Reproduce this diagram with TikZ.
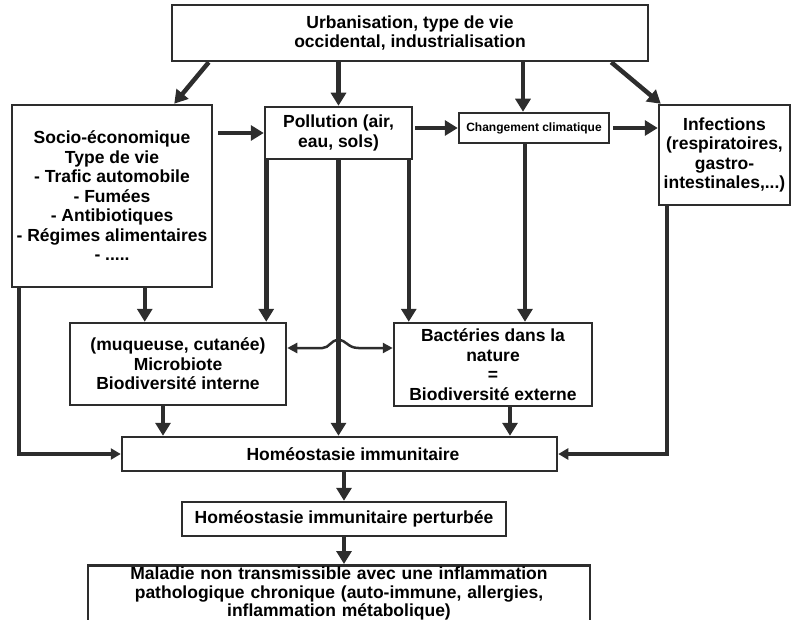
\documentclass[tikz,border=0pt]{standalone}
\usepackage{fontspec}
\setmainfont{Liberation Sans}
\usepackage{tikz}
\usetikzlibrary{arrows.meta}
\usetikzlibrary{calc}

\definecolor{inkgray}{RGB}{45,45,45}

\begin{document}
\begin{tikzpicture}[x=1pt, y=-1pt,
    flowbox/.style = {draw=inkgray, line width=2.5pt, rectangle, align=center, inner sep=0pt,
                      font=\bfseries\fontsize{17.5}{19.5}\selectfont},
    bigarrow/.style = {draw=inkgray, line width=4.5pt, -{Triangle[length=13pt,width=15pt]}},
    thinarrow/.style = {draw=inkgray, line width=3.5pt, -{Triangle[length=10pt,width=11pt]}},
    twoway/.style = {draw=inkgray, line width=2.5pt,
                     {Triangle[length=10pt,width=10pt]}-{Triangle[length=10pt,width=10pt]}}]
      \useasboundingbox (0,0) rectangle (792,620);
      \clip (0,0) rectangle (792,620);
      % Boxes
      \node[flowbox, minimum width=476pt, minimum height=56pt] (urban) at (410,33)
        {Urbanisation, type de vie\\occidental, industrialisation};
      \node[flowbox, minimum width=200pt, minimum height=182pt] (socio) at (112,196)
        {Socio-économique\\Type de vie\\- Trafic automobile\\- Fumées\\- Antibiotiques\\- Régimes alimentaires\\- .....};
      \node[flowbox, minimum width=147pt, minimum height=52pt] (pollution) at (338.5,133)
        {Pollution (air,\\eau, sols)};
      \node[flowbox, minimum width=150pt, minimum height=30pt,
            font=\bfseries\fontsize{12}{14}\selectfont] (climat) at (534,128) {Changement climatique};
      \node[flowbox, minimum width=131pt, minimum height=100pt] (infect) at (724.5,155)
        {Infections\\(respiratoires,\\gastro-\\intestinales,...)};
      \node[flowbox, minimum width=216pt, minimum height=82pt] (microbiote) at (178,364)
        {(muqueuse, cutanée)\\Microbiote\\Biodiversité interne};
      \node[flowbox, minimum width=198pt, minimum height=83pt] (bacteries) at (493,364.5)
        {Bactéries dans la\\nature\\=\\Biodiversité externe};
      \node[flowbox, minimum width=435pt, minimum height=34pt] (homeo) at (339.5,454)
        {\hspace*{27pt}Homéostasie immunitaire};
      \node[flowbox, text width=494pt, inner xsep=4pt, inner ysep=2pt, anchor=north,
            font=\bfseries\fontsize{17.5}{18.5}\selectfont] (maladie) at (339,564)
        {Maladie non transmissible avec une inflammation\\pathologique chronique (auto-immune, allergies,\\inflammation métabolique)\rule[-12pt]{0pt}{12pt}};
      \node[flowbox, minimum width=324pt, minimum height=34pt] (perturbee) at (344,519)
        {Homéostasie immunitaire perturbée};
      % From urbanisation
      \draw[bigarrow] ([xshift=38pt]urban.south west) -- ([xshift=-39pt]socio.north east);
      \draw[bigarrow] (pollution.north |- urban.south) -- (pollution.north);
      \coordinate (c1) at ([xshift=-11pt]climat.north);
      \draw[bigarrow] (c1 |- urban.south) -- (c1);
      \draw[bigarrow] ([xshift=-38pt]urban.south east) -- ([xshift=3pt]infect.north west);
      % Top row
      \draw[bigarrow, shorten <=5pt] (socio.east |- pollution.west) -- (pollution.west);
      \draw[bigarrow, shorten <=2pt] (pollution.east |- climat.west) -- (climat.west);
      \draw[bigarrow, shorten <=3pt] (climat.east) -- (climat.east -| infect.west);
      % Down to the middle row
      \coordinate (s1) at ([xshift=76pt]microbiote.north west);
      \draw[bigarrow] (s1 |- socio.south) -- (s1);
      \coordinate (p1) at ([xshift=-21pt]microbiote.north east);
      \draw[bigarrow] (p1 |- pollution.south) -- (p1);
      \draw[bigarrow] (pollution.south) -- (pollution.south |- homeo.north);
      \coordinate (p2) at ([xshift=16pt]bacteries.north west);
      \draw[bigarrow] (p2 |- pollution.south) -- (p2);
      \coordinate (c2) at ([xshift=-9pt]climat.south);
      \draw[bigarrow] (c2) -- (c2 |- bacteries.north);
      % Microbiote <-> bacteries, hopping over the middle line
      \coordinate (link) at ([yshift=16pt]microbiote.east);
      \coordinate (hop) at (pollution.south |- link);
      \draw[twoway] (link) -- ([xshift=-16pt]hop)
        .. controls ([xshift=-9pt]hop) and ([xshift=-8pt,yshift=8pt]hop) .. ([yshift=8pt]hop)
        .. controls ([xshift=8pt,yshift=8pt]hop) and ([xshift=9pt]hop) .. ([xshift=20pt]hop)
        -- (link -| bacteries.west);
      % To homeostasie
      \coordinate (s2) at ([xshift=8pt]socio.south west);
      \draw[thinarrow] (s2) |- (homeo.west);
      \coordinate (i1) at ([xshift=9pt]infect.south west);
      \draw[thinarrow] (i1) |- (homeo.east);
      \coordinate (m1) at ([xshift=-15pt]microbiote.south);
      \draw[bigarrow] (m1) -- (m1 |- homeo.north);
      \coordinate (b1) at ([xshift=17pt]bacteries.south);
      \draw[bigarrow] (b1) -- (b1 |- homeo.north);
      % Down to the disease
      \draw[bigarrow] (perturbee.north |- homeo.south) -- (perturbee.north);
      \draw[bigarrow] (perturbee.south) -- (perturbee.south |- maladie.north);
\end{tikzpicture}
\end{document}
